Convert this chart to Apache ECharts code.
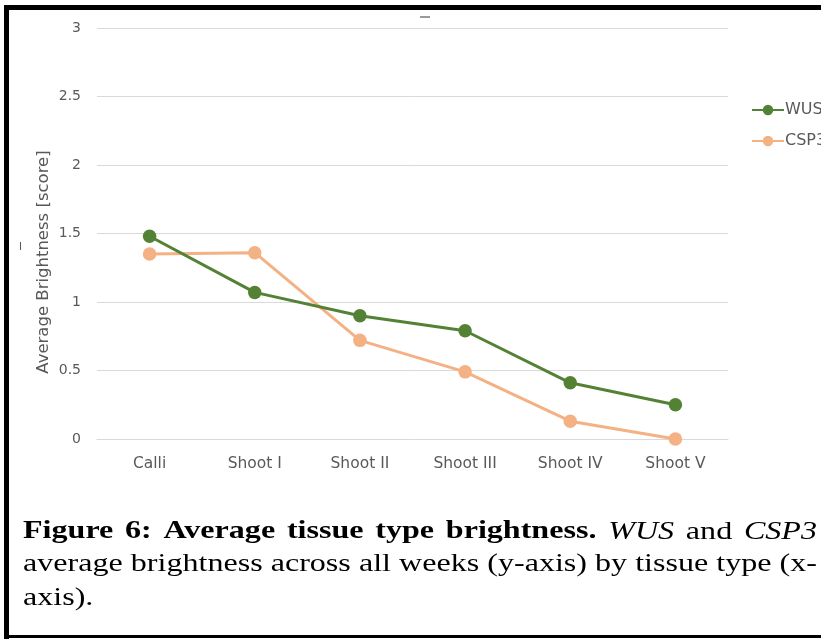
<!DOCTYPE html>
<html>
<head>
<meta charset="utf-8">
<script src="https://cdn.jsdelivr.net/npm/echarts@6/dist/echarts.min.js"></script>
<style>
  html, body { margin: 0; padding: 0; background: #fff; }
  #chart { width: 821px; height: 639px; }
</style>
</head>
<body>
<div id="chart"></div>
<script>
// Tissue types along the x axis
const tissues = ['Calli', 'Shoot I', 'Shoot II', 'Shoot III', 'Shoot IV', 'Shoot V'];
// Average brightness score per tissue type
const wusValues = [1.48, 1.07, 0.90, 0.79, 0.41, 0.25];
const csp3Values = [1.35, 1.36, 0.72, 0.49, 0.13, 0.00];
const seriesNames = ['WUS', 'CSP3'];
const yTicks = { min: 0, max: 3, step: 0.5 };

const sans = '"DejaVu Sans", "Open Sans", sans-serif';
const gray = '#595959';
const serif = '"Liberation Serif", "Times New Roman", serif';

// Caption typesetting: justified paragraph, slightly wide glyphs
const capScale = 1.283;
const capLeft = 23;
const capRight = 817;
const capFonts = {
  b: 'bold 25px ' + serif,
  i: 'italic 25px ' + serif,
  n: '25px ' + serif
};
const captionLines = [
  { y: 532, justify: true, words: [['b', 'Figure'], ['b', '6:'], ['b', 'Average'], ['b', 'tissue'], ['b', 'type'], ['b', 'brightness.'], ['i', 'WUS'], ['n', 'and'], ['i', 'CSP3']] },
  { y: 564.5, justify: true, words: [['n', 'average'], ['n', 'brightness'], ['n', 'across'], ['n', 'all'], ['n', 'weeks'], ['n', '(y-axis)'], ['n', 'by'], ['n', 'tissue'], ['n', 'type'], ['n', '(x-']] },
  { y: 598, justify: false, words: [['n', 'axis).']] }
];

const measureCtx = document.createElement('canvas').getContext('2d');
function textWidth(font, str) {
  measureCtx.font = font;
  return measureCtx.measureText(str).width;
}

function captionGraphics() {
  const out = [];
  const avail = (capRight - capLeft) / capScale;
  const space = textWidth(capFonts.n, ' ');
  captionLines.forEach(function (line) {
    const widths = line.words.map(function (w) { return textWidth(capFonts[w[0]], w[1]); });
    const total = widths.reduce(function (a, b) { return a + b; }, 0);
    const gap = (line.justify && line.words.length > 1)
      ? (avail - total) / (line.words.length - 1)
      : space;
    let cursor = 0;
    line.words.forEach(function (w, k) {
      out.push({
        type: 'text',
        x: capLeft + cursor * capScale,
        y: line.y,
        scaleX: capScale,
        style: {
          text: w[1],
          font: capFonts[w[0]],
          fill: '#000',
          align: 'left',
          verticalAlign: 'middle'
        }
      });
      cursor += widths[k] + gap;
    });
  });
  return out;
}

const chart = echarts.init(document.getElementById('chart'), null, { renderer: 'canvas' });

chart.setOption({
  animation: false,
  backgroundColor: '#ffffff',
  grid: { left: 97, right: 93, top: 28, bottom: 200, containLabel: false },
  legend: {
    orient: 'vertical',
    left: 746,
    top: 97,
    itemWidth: 32,
    itemHeight: 13,
    itemGap: 15,
    textStyle: { fontFamily: sans, fontSize: 16, color: gray, padding: [0, 0, 0, -4] },
    data: seriesNames
  },
  xAxis: {
    type: 'category',
    data: tissues,
    boundaryGap: true,
    axisLine: { show: true, lineStyle: { color: '#d9d9d9', width: 1 } },
    axisTick: { show: false },
    axisLabel: { color: gray, fontFamily: sans, fontSize: 15.5, margin: 17 }
  },
  yAxis: {
    type: 'value',
    min: yTicks.min,
    max: yTicks.max,
    interval: yTicks.step,
    axisLine: { show: false },
    axisTick: { show: false },
    splitLine: { lineStyle: { color: '#d9d9d9', width: 1 } },
    axisLabel: { color: gray, fontFamily: sans, fontSize: 14, margin: 16 }
  },
  series: [
    {
      name: seriesNames[0],
      type: 'line',
      data: wusValues,
      symbol: 'circle',
      symbolSize: 13.5,
      lineStyle: { color: '#548235', width: 3 },
      itemStyle: { color: '#548235' },
      z: 3
    },
    {
      name: seriesNames[1],
      type: 'line',
      data: csp3Values,
      symbol: 'circle',
      symbolSize: 13.5,
      lineStyle: { color: '#F4B183', width: 3 },
      itemStyle: { color: '#F4B183' },
      z: 2
    }
  ],
  graphic: [
    // page frame
    { type: 'rect', shape: { x: 4, y: 5, width: 830, height: 5 }, style: { fill: '#000' } },
    { type: 'rect', shape: { x: 4, y: 5, width: 5, height: 634 }, style: { fill: '#000' } },
    { type: 'rect', shape: { x: 4, y: 635, width: 830, height: 3 }, style: { fill: '#000' } },
    // small marks near title position and left margin
    { type: 'rect', shape: { x: 420, y: 16, width: 10, height: 2 }, style: { fill: '#9a9a9a' } },
    { type: 'rect', shape: { x: 20, y: 242, width: 1, height: 8 }, style: { fill: '#555' } },
    // y axis title
    {
      type: 'text',
      x: 44, y: 262,
      rotation: Math.PI / 2,
      style: {
        text: 'Average Brightness [score]',
        fill: gray,
        font: '16.5px ' + sans,
        align: 'center',
        verticalAlign: 'middle'
      }
    }
  ].concat(captionGraphics())
});
</script>
</body>
</html>
